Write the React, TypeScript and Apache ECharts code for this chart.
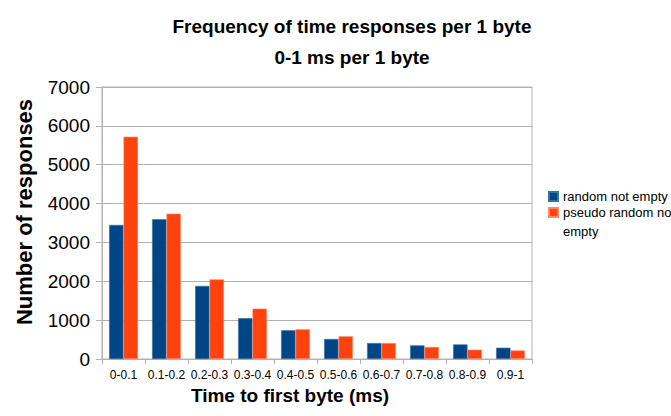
import React, { useEffect, useRef } from "react";
import * as echarts from "echarts";

const categories = ["0-0.1", "0.1-0.2", "0.2-0.3", "0.3-0.4", "0.4-0.5", "0.5-0.6", "0.6-0.7", "0.7-0.8", "0.8-0.9", "0.9-1"];
const randomNotEmpty = [3450, 3600, 1880, 1050, 740, 515, 410, 350, 375, 290];
const pseudoRandomNotEmpty = [5720, 3740, 2050, 1295, 765, 585, 410, 310, 240, 220];
const seriesNames = ["random not empty", "pseudo random not empty"];
const yTicks = { min: 0, max: 7000, interval: 1000 };

const FONT = "'Liberation Sans', Arial, sans-serif";

export default function App() {
  const ref = useRef<HTMLDivElement>(null);
  useEffect(() => {
    if (!ref.current) return;
    const chart = echarts.init(ref.current, null, { renderer: "svg" });
    chart.setOption({
      animation: false,
      backgroundColor: "#ffffff",
      textStyle: { fontFamily: FONT },
      title: [
        {
          text: "Frequency of time responses per 1 byte",
          left: 347,
          top: 12,
          textAlign: "center",
          textStyle: { fontFamily: FONT, fontSize: 19, fontWeight: "bold", color: "#000" },
        },
        {
          text: "0-1 ms per 1 byte",
          left: 347,
          top: 43,
          textAlign: "center",
          textStyle: { fontFamily: FONT, fontSize: 19, fontWeight: "bold", color: "#000" },
        },
      ],
      legend: [
        {
          orient: "vertical",
          left: 548,
          top: 190,
          padding: 0,
          itemWidth: 9,
          itemHeight: 9,
          itemGap: 0,
          icon: "rect",
          data: [seriesNames[0]],
          textStyle: { fontFamily: FONT, fontSize: 13, color: "#000" },
        },
        {
          orient: "vertical",
          left: 548,
          top: 184,
          padding: 0,
          itemWidth: 9,
          itemHeight: 9,
          itemGap: 0,
          icon: "rect",
          data: [seriesNames[1]],
          formatter: () => " \npseudo random not\nempty",
          textStyle: { fontFamily: FONT, fontSize: 13, color: "#000", lineHeight: 19 },
        },
      ],
      grid: {
        left: 102,
        right: 139,
        top: 87,
        bottom: 57,
        show: true,
        borderColor: "#b3b3b3",
        borderWidth: 1,
      },
      xAxis: {
        type: "category",
        data: categories,
        name: "Time to first byte (ms)",
        nameLocation: "middle",
        nameGap: 27,
        nameTextStyle: { fontFamily: FONT, fontSize: 19, fontWeight: "bold", color: "#000", padding: [0, 54, 0, 0] },
        axisLine: { lineStyle: { color: "#b3b3b3" } },
        axisTick: { show: true, length: 5, lineStyle: { color: "#b3b3b3" } },
        axisLabel: { interval: 0, fontFamily: FONT, fontSize: 12, color: "#000", margin: 10 },
      },
      yAxis: {
        type: "value",
        min: yTicks.min,
        max: yTicks.max,
        interval: yTicks.interval,
        name: "Number of responses",
        nameLocation: "middle",
        nameGap: 67,
        nameTextStyle: { fontFamily: FONT, fontSize: 22, fontWeight: "bold", color: "#000", padding: [0, 0, 0, 22] },
        axisLine: { show: true, lineStyle: { color: "#b3b3b3" } },
        axisTick: { show: true, length: 6, lineStyle: { color: "#b3b3b3" } },
        axisLabel: { fontFamily: FONT, fontSize: 19, color: "#000", margin: 12, formatter: (v: number) => String(v) },
        splitLine: { lineStyle: { color: "#b3b3b3" } },
      },
      series: [
        {
          name: seriesNames[0],
          type: "bar",
          data: randomNotEmpty,
          barGap: "0%",
          barCategoryGap: "33%",
          itemStyle: { color: "#004586", borderColor: "#3b6f9e", borderWidth: 0.6 },
        },
        {
          name: seriesNames[1],
          type: "bar",
          data: pseudoRandomNotEmpty,
          barGap: "0%",
          barCategoryGap: "33%",
          itemStyle: { color: "#ff420e", borderColor: "#ff8a66", borderWidth: 0.6 },
        },
      ],
    });
    return () => chart.dispose();
  }, []);
  return (
    <div
      ref={ref}
      style={{ position: "absolute", left: 0, top: 0, width: 671, height: 416 }}
    />
  );
}
